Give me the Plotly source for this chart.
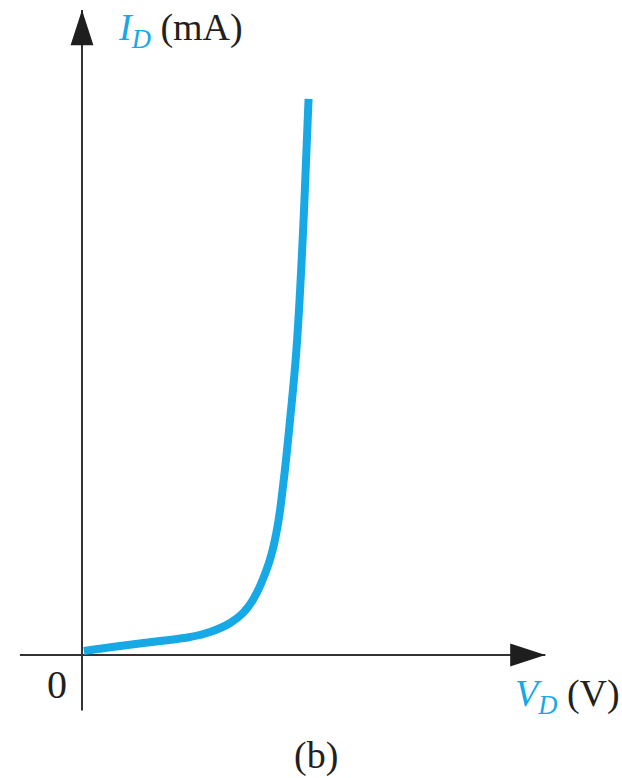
import plotly.graph_objects as go

# Diode characteristic: V_D (V) vs I_D (mA)
vd = [0.006, 0.119, 0.244, 0.338, 0.400, 0.463, 0.503, 0.534, 0.583,
      0.609, 0.629, 0.651, 0.670, 0.688, 0.699, 0.708]
id_ma = [0.072, 0.162, 0.252, 0.324, 0.414, 0.577, 0.757, 0.991, 1.640,
         2.252, 3.081, 4.288, 5.495, 7.297, 8.739, 10.02]

# axis extents (data units)
x_axis_ext = [-0.194, 1.448]
y_axis_ext = [-1.0, 11.62]

W, H = 622, 778
X0_PX, Y0_PX = 82, 655      # origin in pixels
SX, SY = 320.0, 55.5
xr = [-X0_PX / SX, (W - X0_PX) / SX]
yr = [-(H - Y0_PX) / SY, Y0_PX / SY]

BLUE = "#17a8e6"
AX = "#333333"
TXT = "#231f20"
FONT = "Liberation Serif, Times New Roman, serif"

fig = go.Figure()
# axes
fig.add_trace(go.Scatter(x=x_axis_ext, y=[0, 0], mode="lines",
                         line=dict(color=AX, width=2), hoverinfo="skip"))
fig.add_trace(go.Scatter(x=[0, 0], y=y_axis_ext, mode="lines",
                         line=dict(color=AX, width=2), hoverinfo="skip"))
# arrow heads
fig.add_trace(go.Scatter(x=[x_axis_ext[1]], y=[0], mode="markers",
                         marker=dict(symbol="arrow", angle=90, size=37, color="#1e1e1e",
                                     line=dict(width=0)), hoverinfo="skip"))
fig.add_trace(go.Scatter(x=[0], y=[y_axis_ext[1]], mode="markers",
                         marker=dict(symbol="arrow", angle=0, size=37, color="#1e1e1e",
                                     line=dict(width=0)), hoverinfo="skip"))
# curve
fig.add_trace(go.Scatter(x=vd, y=id_ma, mode="lines",
                         line=dict(color=BLUE, width=8, shape="spline", smoothing=1.2),
                         hoverinfo="skip"))


def px(x, y):
    return x / W, 1 - y / H


def ann(x, y, text, xanchor, size=38):
    ax_, ay_ = px(x, y)
    return dict(x=ax_, y=ay_, xref="paper", yref="paper", xanchor=xanchor,
                yanchor="middle", showarrow=False,
                font=dict(family=FONT, size=size, color=TXT), text=text)


anns = [
    ann(116, 30, f'<span style="color:{BLUE}"><i>I</i><sub><i>D</i></sub></span> (mA)', "left"),
    ann(513, 696, f'<span style="color:{BLUE}"><i>V</i><sub><i>D</i></sub></span> (V)', "left"),
    ann(57, 684, "0", "center", 40),
    ann(316, 755, "(b)", "center"),
]

fig.update_layout(
    width=W, height=H, margin=dict(l=0, r=0, t=0, b=0),
    paper_bgcolor="white", plot_bgcolor="white", showlegend=False,
    xaxis=dict(range=xr, visible=False, fixedrange=True),
    yaxis=dict(range=yr, visible=False, fixedrange=True),
    annotations=anns,
)
fig.write_html("out.html", config={"displayModeBar": False, "staticPlot": True},
               post_script="document.body.style.margin='0';document.body.style.overflow='hidden';")
